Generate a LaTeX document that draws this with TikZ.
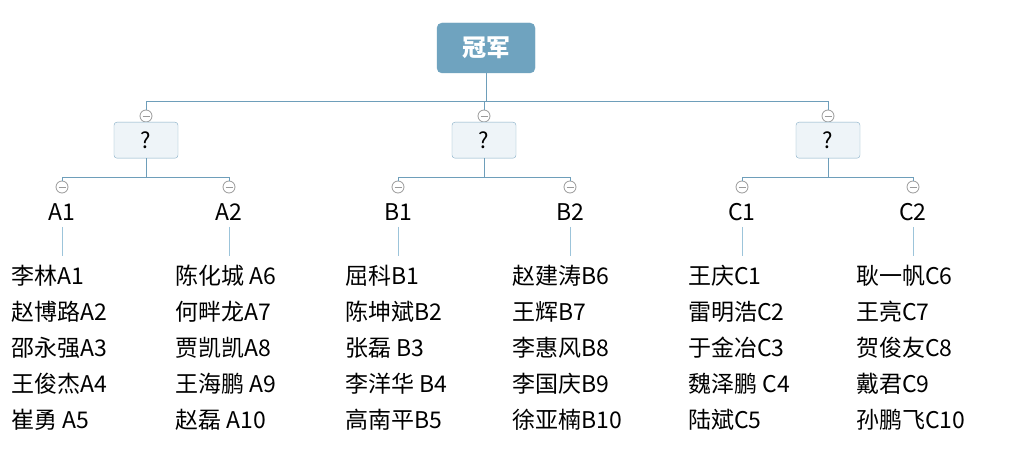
\documentclass[tikz,border=0pt]{standalone}
\usepackage{fontspec}
\setmainfont{Noto Sans CJK SC}
\begin{document}
\definecolor{rootfill}{HTML}{6FA3BF}
\definecolor{qfill}{HTML}{EEF4F8}
\definecolor{qdraw}{HTML}{86AEC6}
\definecolor{conncol}{HTML}{6E9EBA}
\definecolor{leafcol}{HTML}{9CC4DA}
\definecolor{markgray}{HTML}{9A9A9A}
\begin{tikzpicture}[x=1pt,y=-1pt,
  rootbox/.style={draw=rootfill, fill=rootfill, rounded corners=5pt, minimum width=98pt,
    minimum height=50pt, inner sep=0pt, text=white, font=\fontsize{24}{28}\selectfont\bfseries},
  qbox/.style={draw=qdraw, fill=qfill, rounded corners=3pt, minimum width=64pt,
    minimum height=36pt, inner sep=0pt, font=\fontsize{22}{26}\selectfont},
  marker/.style={circle, draw=markgray, fill=white, minimum size=12pt, inner sep=0pt,
    line width=0.8pt,
    path picture={\draw[markgray, line width=0.8pt]
      ([xshift=2.5pt]path picture bounding box.west) -- ([xshift=-2.5pt]path picture bounding box.east);}},
  grouplabel/.style={inner sep=0pt, minimum height=28pt, font=\fontsize{23}{28}\selectfont},
  leaf/.style={anchor=west, inner sep=0pt, font=\fontsize{23}{28}\selectfont},
  conn/.style={draw=conncol, line width=1pt},
  leafline/.style={draw=leafcol, line width=1pt}]
\fill[white] (0,0) rectangle (1010,462);
\useasboundingbox (0,0) rectangle (1010,462);

% top level
\node[rootbox] (root) at (486,48) {冠军};
\coordinate (hub) at (486,102);

% second level: markers and question boxes
\node[marker] (mA) at (146,116) {};
\node[marker] (mB) at (484,116) {};
\node[marker] (mC) at (828,116) {};
\node[qbox, anchor=north] (qA) at (146,122) {?};
\node[qbox, anchor=north] (qB) at (484,122) {?};
\node[qbox, anchor=north] (qC) at (828,122) {?};

\draw[conn] (root.south) -- (hub);
\draw[conn] (hub) -| (mA.north);
\draw[conn] (hub) -| (mC.north);
\draw[conn] (hub) -| (mB.north);

% third level hubs
\coordinate (hA) at (146,178);
\coordinate (hB) at (484,178);
\coordinate (hC) at (828,178);
\draw[conn] (qA.south) -- (hA);
\draw[conn] (qB.south) -- (hB);
\draw[conn] (qC.south) -- (hC);

\foreach \n/\x/\h in {A1/62/hA, A2/229/hA, B1/398/hB, B2/570/hB, C1/742/hC, C2/913/hC}{
  \node[marker] (m\n) at (\x,187) {};
  \node[grouplabel] (l\n) at (\x,212) {\n};
  \coordinate (e\n) at (\x,256);
  \draw[conn] (\h) -| (m\n.north);
  \draw[leafline] (\x,227) -- (e\n);
}

% leaves
\foreach \col/\x/\names in {
  A1/11/{李林A1,赵博路A2,邵永强A3,王俊杰A4,崔勇 A5},
  A2/175/{陈化城 A6,何畔龙A7,贾凯凯A8,王海鹏 A9,赵磊 A10},
  B1/345/{屈科B1,陈坤斌B2,张磊 B3,李洋华 B4,高南平B5},
  B2/512/{赵建涛B6,王辉B7,李惠风B8,李国庆B9,徐亚楠B10},
  C1/688/{王庆C1,雷明浩C2,于金冶C3,魏泽鹏 C4,陆斌C5},
  C2/856/{耿一帆C6,王亮C7,贺俊友C8,戴君C9,孙鹏飞C10}}{
  \foreach \t [count=\i from 0] in \names {
    \node[leaf] (leaf\col-\i) at (\x,{276+36*\i}) {\t};
  }
}
\end{tikzpicture}
\end{document}
